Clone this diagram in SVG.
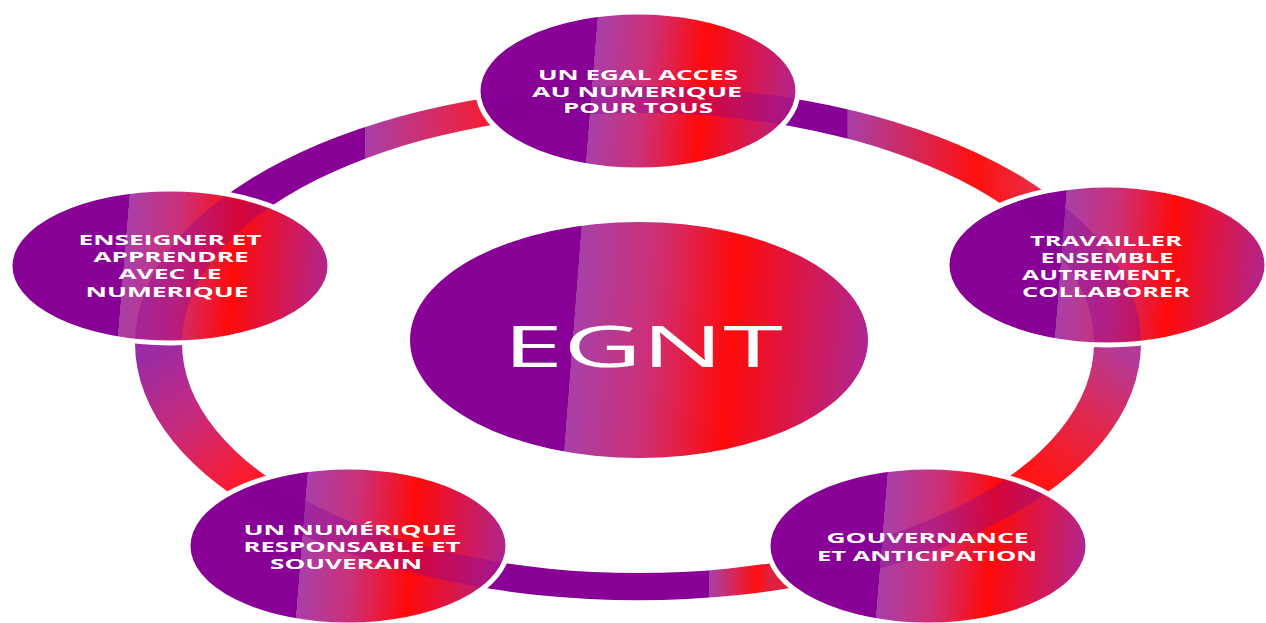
<svg xmlns="http://www.w3.org/2000/svg" width="1266" height="623" viewBox="0 0 1266 623">
<style>
.node{stroke:#fff;stroke-width:5}
.band{fill:#880096;opacity:0.35}
.lbl{font-family:"Open Sans","Liberation Sans",sans-serif;font-weight:700;font-size:14.5px;fill:#fff;text-anchor:middle}
.big{font-family:"Open Sans","Liberation Sans",sans-serif;font-weight:400;font-size:57px;fill:#fff;text-anchor:middle}
</style>
<defs>
<linearGradient id="gNode" x1="0" y1="0.48" x2="1" y2="0.52">
<stop offset="0" stop-color="#880096"/>
<stop offset="0.355" stop-color="#880096"/>
<stop offset="0.356" stop-color="#a840a8"/>
<stop offset="0.52" stop-color="#cc3078"/>
<stop offset="0.70" stop-color="#ff0a0a"/>
<stop offset="1" stop-color="#b02590"/>
</linearGradient>
<linearGradient id="gTL" gradientUnits="userSpaceOnUse" x1="240" y1="0" x2="485" y2="0">
<stop offset="0" stop-color="#880096"/>
<stop offset="0.51" stop-color="#880096"/>
<stop offset="0.511" stop-color="#a840a8"/>
<stop offset="1" stop-color="#f41e36"/>
</linearGradient>
<linearGradient id="gTR" gradientUnits="userSpaceOnUse" x1="793" y1="0" x2="1040" y2="0">
<stop offset="0" stop-color="#880096"/>
<stop offset="0.22" stop-color="#880096"/>
<stop offset="0.221" stop-color="#a840a8"/>
<stop offset="0.74" stop-color="#ff1010"/>
<stop offset="1" stop-color="#e83048"/>
</linearGradient>
<linearGradient id="gR" gradientUnits="userSpaceOnUse" x1="1120" y1="350" x2="1040" y2="478">
<stop offset="0" stop-color="#b43a98"/>
<stop offset="0.5" stop-color="#e0284f"/>
<stop offset="1" stop-color="#ff1515"/>
</linearGradient>
<linearGradient id="gB" gradientUnits="userSpaceOnUse" x1="492" y1="0" x2="770" y2="0">
<stop offset="0" stop-color="#880096"/>
<stop offset="0.78" stop-color="#880096"/>
<stop offset="0.781" stop-color="#a840a8"/>
<stop offset="0.95" stop-color="#ff1010"/>
<stop offset="1" stop-color="#e02040"/>
</linearGradient>
<linearGradient id="gL" gradientUnits="userSpaceOnUse" x1="150" y1="350" x2="250" y2="480">
<stop offset="0" stop-color="#9a2aa6"/>
<stop offset="0.5" stop-color="#c82a7a"/>
<stop offset="1" stop-color="#ff1a2a"/>
</linearGradient>
<path id="ring" fill-rule="evenodd" d="M135 343A503 257 0 1 0 1141 343A503 257 0 1 0 135 343Z M182 343A456 230 0 1 1 1094 343A456 230 0 1 1 182 343Z"/>
<clipPath id="wTL"><polygon points="638,343 -1000,73 -1000,-500 638,-500"/></clipPath>
<clipPath id="wTR"><polygon points="638,343 638,-500 2200,-500 2200,83"/></clipPath>
<clipPath id="wR"><polygon points="638,343 2200,83 2200,1200 1862,1200"/></clipPath>
<clipPath id="wB"><polygon points="638,343 1862,1200 -586,1200"/></clipPath>
<clipPath id="wL"><polygon points="638,343 -586,1200 -1000,1200 -1000,73"/></clipPath>
<clipPath id="cT"><ellipse cx="638" cy="91" rx="157" ry="76"/></clipPath>
<clipPath id="cL"><ellipse cx="170" cy="266" rx="157" ry="74"/></clipPath>
<clipPath id="cR"><ellipse cx="1107" cy="265" rx="157" ry="77"/></clipPath>
<clipPath id="cBL"><ellipse cx="348" cy="546" rx="157" ry="76"/></clipPath>
<clipPath id="cBR"><ellipse cx="928" cy="546" rx="157" ry="76"/></clipPath>
</defs>
<rect width="1266" height="623" fill="#fff"/>
<g id="connectors">
<use href="#ring" fill="url(#gTL)" clip-path="url(#wTL)"/>
<use href="#ring" fill="url(#gTR)" clip-path="url(#wTR)"/>
<use href="#ring" fill="url(#gR)" clip-path="url(#wR)"/>
<use href="#ring" fill="url(#gB)" clip-path="url(#wB)"/>
<use href="#ring" fill="url(#gL)" clip-path="url(#wL)"/>
</g>
<g id="node-center">
<ellipse cx="639" cy="340" rx="229" ry="118" fill="url(#gNode)"/>
<text class="big" x="643" y="367" textLength="280" lengthAdjust="spacingAndGlyphs">EGNT</text>
</g>
<g id="node-top">
<ellipse class="node" cx="638" cy="91" rx="160" ry="79" fill="url(#gNode)"/>
<use href="#ring" class="band" clip-path="url(#cT)"/>
<text class="lbl" x="638" y="80" textLength="200" lengthAdjust="spacingAndGlyphs">UN EGAL ACCES</text>
<text class="lbl" x="637" y="97" textLength="210" lengthAdjust="spacingAndGlyphs">AU NUMERIQUE</text>
<text class="lbl" x="638" y="113" textLength="150" lengthAdjust="spacingAndGlyphs">POUR TOUS</text>
</g>
<g id="node-left">
<ellipse class="node" cx="170" cy="266" rx="160" ry="77" fill="url(#gNode)"/>
<use href="#ring" class="band" clip-path="url(#cL)"/>
<text class="lbl" x="170" y="245" textLength="183" lengthAdjust="spacingAndGlyphs">ENSEIGNER ET</text>
<text class="lbl" x="171" y="262" textLength="155" lengthAdjust="spacingAndGlyphs">APPRENDRE</text>
<text class="lbl" x="170" y="279" textLength="103" lengthAdjust="spacingAndGlyphs">AVEC LE</text>
<text class="lbl" x="167" y="296.5" textLength="163" lengthAdjust="spacingAndGlyphs">NUMERIQUE</text>
</g>
<g id="node-right">
<ellipse class="node" cx="1107" cy="265" rx="160" ry="80" fill="url(#gNode)"/>
<use href="#ring" class="band" clip-path="url(#cR)"/>
<text class="lbl" x="1106" y="245.5" textLength="152" lengthAdjust="spacingAndGlyphs">TRAVAILLER</text>
<text class="lbl" x="1107" y="262.5" textLength="133" lengthAdjust="spacingAndGlyphs">ENSEMBLE</text>
<text class="lbl" x="1102" y="279.5" textLength="160" lengthAdjust="spacingAndGlyphs">AUTREMENT,</text>
<text class="lbl" x="1106" y="296.5" textLength="168" lengthAdjust="spacingAndGlyphs">COLLABORER</text>
</g>
<g id="node-bottom-left">
<ellipse class="node" cx="348" cy="546" rx="160" ry="79" fill="url(#gNode)"/>
<use href="#ring" class="band" clip-path="url(#cBL)"/>
<text class="lbl" x="350" y="535" textLength="213" lengthAdjust="spacingAndGlyphs">UN NUMÉRIQUE</text>
<text class="lbl" x="352" y="552.3" textLength="217" lengthAdjust="spacingAndGlyphs">RESPONSABLE ET</text>
<text class="lbl" x="346" y="569.3" textLength="152" lengthAdjust="spacingAndGlyphs">SOUVERAIN</text>
</g>
<g id="node-bottom-right">
<ellipse class="node" cx="928" cy="546" rx="160" ry="79" fill="url(#gNode)"/>
<use href="#ring" class="band" clip-path="url(#cBR)"/>
<text class="lbl" x="927.5" y="543.3" textLength="202" lengthAdjust="spacingAndGlyphs">GOUVERNANCE</text>
<text class="lbl" x="927" y="561" textLength="220" lengthAdjust="spacingAndGlyphs">ET ANTICIPATION</text>
</g>
</svg>
